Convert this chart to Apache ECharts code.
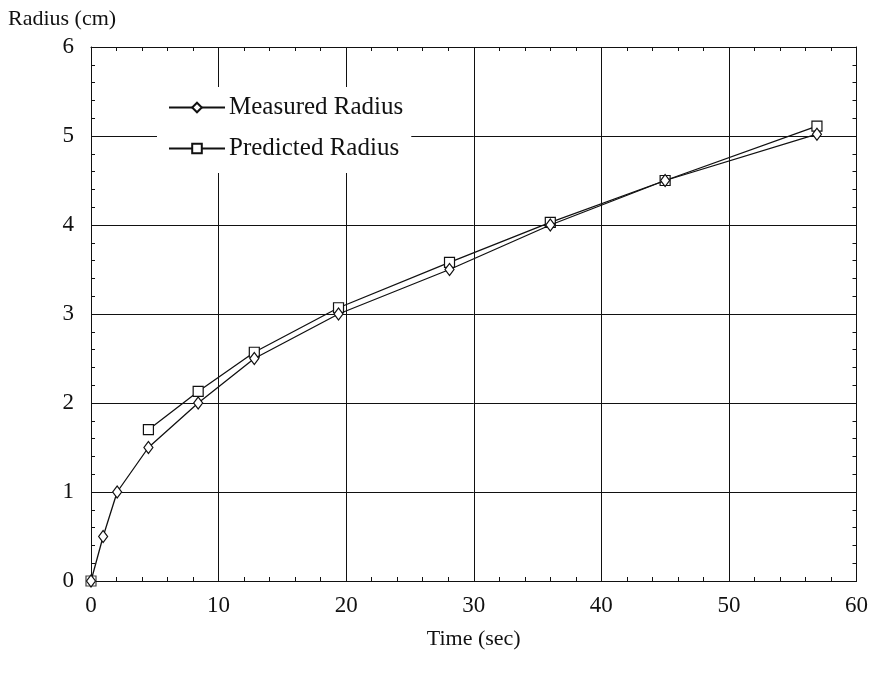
<!DOCTYPE html>
<html>
<head>
<meta charset="utf-8">
<script src="https://cdn.jsdelivr.net/npm/echarts@6/dist/echarts.min.js"></script>
<style>
  html, body { margin: 0; padding: 0; background: #fff; }
  #chart { width: 871px; height: 683px; }
</style>
</head>
<body>
<div id="chart"></div>
<script>
// Radius growth over time: measured vs. predicted
const measuredTime = [0, 0.95, 2.05, 4.5, 8.4, 12.8, 19.4, 28.1, 36.0, 45.0, 56.9];
const measuredRadius = [0, 0.5, 1.0, 1.5, 2.0, 2.5, 3.0, 3.5, 4.0, 4.5, 5.02];
const predictedTime = [0, 4.5, 8.4, 12.8, 19.4, 28.1, 36.0, 45.0, 56.9];
const predictedRadius = [0, 1.7, 2.13, 2.57, 3.07, 3.58, 4.03, 4.5, 5.11];
const xTicks = [0, 10, 20, 30, 40, 50, 60];
const yTicks = [0, 1, 2, 3, 4, 5, 6];

const FONT = '"Liberation Serif", "DejaVu Serif", serif';
const INK = '#111';

const pairs = (xs, ys) => xs.map((x, i) => [x, ys[i]]);
const predictedPts = pairs(predictedTime, predictedRadius);

const frameAxis = {
  axisLine: { show: true, onZero: false, lineStyle: { color: INK, width: 1 } },
  axisTick: { show: true, inside: true, length: 7, lineStyle: { color: INK } },
  minorTick: { show: true, splitNumber: 5, length: 4, lineStyle: { color: INK } }
};

const markerStyle = { color: '#fff', borderColor: INK, borderWidth: 1.2 };

const chart = echarts.init(document.getElementById('chart'), null, { renderer: 'canvas' });
chart.setOption({
  backgroundColor: '#fff',
  animation: false,
  title: {
    text: 'Radius (cm)',
    left: 3,
    top: 3,
    textStyle: { fontFamily: FONT, fontSize: 22, fontWeight: 'normal', color: INK }
  },
  grid: { left: 91, top: 47, width: 766, height: 534 },
  legend: {
    orient: 'vertical',
    left: 157,
    top: 87,
    padding: [8, 8, 12, 11],
    itemGap: 16,
    itemWidth: 56,
    itemHeight: 12,
    backgroundColor: '#fff',
    z: 10,
    textStyle: { fontFamily: FONT, fontSize: 25, color: INK, lineHeight: 25, padding: [0, 0, 0, -1] },
    data: ['Measured Radius', 'Predicted Radius']
  },
  xAxis: [
    Object.assign({
      type: 'value', min: xTicks[0], max: xTicks[xTicks.length - 1], interval: 10,
      position: 'bottom',
      name: 'Time (sec)', nameLocation: 'middle', nameGap: 47,
      nameTextStyle: { fontFamily: FONT, fontSize: 22, color: INK },
      axisLabel: { margin: 13, fontFamily: FONT, fontSize: 23, color: INK },
      splitLine: { show: true, lineStyle: { color: INK, width: 1 } }
    }, frameAxis),
    Object.assign({
      type: 'value', min: xTicks[0], max: xTicks[xTicks.length - 1], interval: 10,
      position: 'top',
      axisLabel: { show: false },
      splitLine: { show: false }
    }, frameAxis)
  ],
  yAxis: [
    Object.assign({
      type: 'value', min: yTicks[0], max: yTicks[yTicks.length - 1], interval: 1,
      position: 'left',
      axisLabel: { margin: 17, fontFamily: FONT, fontSize: 23, color: INK },
      splitLine: { show: true, lineStyle: { color: INK, width: 1 } }
    }, frameAxis),
    Object.assign({
      type: 'value', min: yTicks[0], max: yTicks[yTicks.length - 1], interval: 1,
      position: 'right',
      axisLabel: { show: false },
      splitLine: { show: false }
    }, frameAxis)
  ],
  series: [
    {
      name: 'Measured Radius',
      type: 'line',
      data: pairs(measuredTime, measuredRadius),
      symbol: 'diamond',
      symbolSize: [9, 12],
      showAllSymbol: true,
      lineStyle: { color: INK, width: 1.3 },
      itemStyle: markerStyle,
      z: 3
    },
    {
      // the predicted curve starts at the first non-zero time
      name: 'Predicted Radius',
      type: 'line',
      data: predictedPts.slice(1),
      symbol: 'rect',
      symbolSize: 10,
      showAllSymbol: true,
      lineStyle: { color: INK, width: 1.3 },
      itemStyle: markerStyle,
      z: 2
    },
    {
      // predicted value at t = 0, drawn as a lone marker
      name: 'Predicted origin',
      type: 'scatter',
      data: predictedPts.slice(0, 1),
      symbol: 'rect',
      symbolSize: 10,
      itemStyle: markerStyle,
      z: 2
    }
  ]
});
</script>
</body>
</html>
